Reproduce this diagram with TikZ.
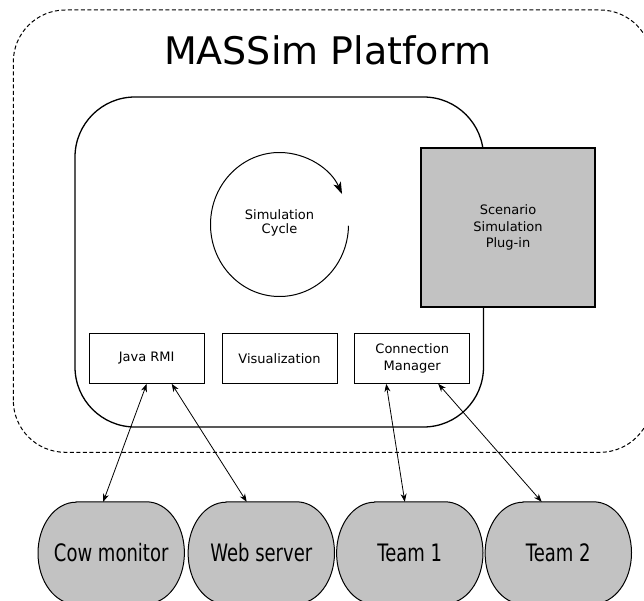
\documentclass[tikz,border=0pt]{standalone}
\usepackage{fontspec}
\setmainfont{DejaVu Sans}
\newfontfamily\condfont[FakeStretch=0.75]{DejaVu Sans}
\usetikzlibrary{arrows.meta,backgrounds}
\definecolor{plugingray}{RGB}{194,194,194}

% outline of a client: flat top and bottom, elliptic ends
\newcommand{\clientshape}[1]{%
  \filldraw[client outline] ([xshift=38pt]#1.north west) -- ([xshift=-38pt]#1.north east)
    arc[start angle=90,end angle=-90,x radius=38pt,y radius=51pt]
    -- ([xshift=38pt]#1.south west)
    arc[start angle=270,end angle=90,x radius=38pt,y radius=51pt] -- cycle;}

\begin{document}
\begin{tikzpicture}[x=1pt,y=1pt,
  module/.style={draw, line width=1pt, minimum width=115pt, minimum height=50pt,
    inner sep=0pt, align=center, font=\fontsize{13}{17.4}\selectfont},
  plugin/.style={draw, fill=plugingray, line width=1.3pt, minimum width=174pt,
    minimum height=159pt, inner sep=0pt, align=center, font=\fontsize{13}{16.5}\selectfont},
  client/.style={minimum width=146pt, minimum height=102pt, inner sep=0pt,
    font=\condfont\fontsize{24}{28}\selectfont},
  client outline/.style={fill=plugingray, draw=black, line width=1pt},
  link/.style={{Stealth[length=8pt,width=6pt,inset=2.5pt]}-{Stealth[length=8pt,width=6pt,inset=2.5pt]},
    line width=0.8pt}]
\useasboundingbox (0,0) rectangle (644,600);

% platform border
\draw[dash pattern=on 4pt off 2.5pt, line width=1pt, rounded corners=52pt]
  (13.3,147.7) rectangle (652,590);
\node[font=\fontsize{38}{44}\selectfont, anchor=base] (title) at (327.5,535) {MASSim Platform};

% server core
\draw[line width=1.3pt, rounded corners=60pt] (75,173) rectangle (483.5,503);
\draw[line width=1pt, -{Stealth[length=12pt,width=8pt,inset=3pt]}]
  (279.5,375.5) ++(-1:69 and 72) arc[start angle=-1,end angle=-335,x radius=69,y radius=72];
\node[align=center, font=\fontsize{13}{14}\selectfont] (cycle) at (279.5,376.6) {Simulation\\Cycle};
\node[plugin] (scenario) at (508,372.5) {Scenario\\Simulation\\Plug-in};

\node[module] (jrmi) at (146.7,241.7) {Java RMI};
\node[module] (visual) at (279.5,241.7) {Visualization};
\node[module] (conn) at (412.2,241.7) {Connection\\Manager};

% clients
\node[client] (cow) at (111.2,47) {Cow monitor};
\node[client] (web) at (261.3,47) {Web server};
\node[client] (team1) at (409.8,47) {Team 1};
\node[client] (team2) at (558.3,47) {Team 2};
\begin{scope}[on background layer]
\clientshape{cow}
\clientshape{web}
\clientshape{team1}
\clientshape{team2}
\end{scope}

\draw[link] (jrmi.south) -- ([xshift=-8pt]cow.north);
\draw[link] ([xshift=25pt]jrmi.south) -- ([xshift=-14.6pt]web.north);
\draw[link] ([xshift=-26pt]conn.south) -- ([xshift=-5pt]team1.north);
\draw[link] ([xshift=26pt]conn.south) -- ([xshift=-16.6pt]team2.north);
\end{tikzpicture}
\end{document}
